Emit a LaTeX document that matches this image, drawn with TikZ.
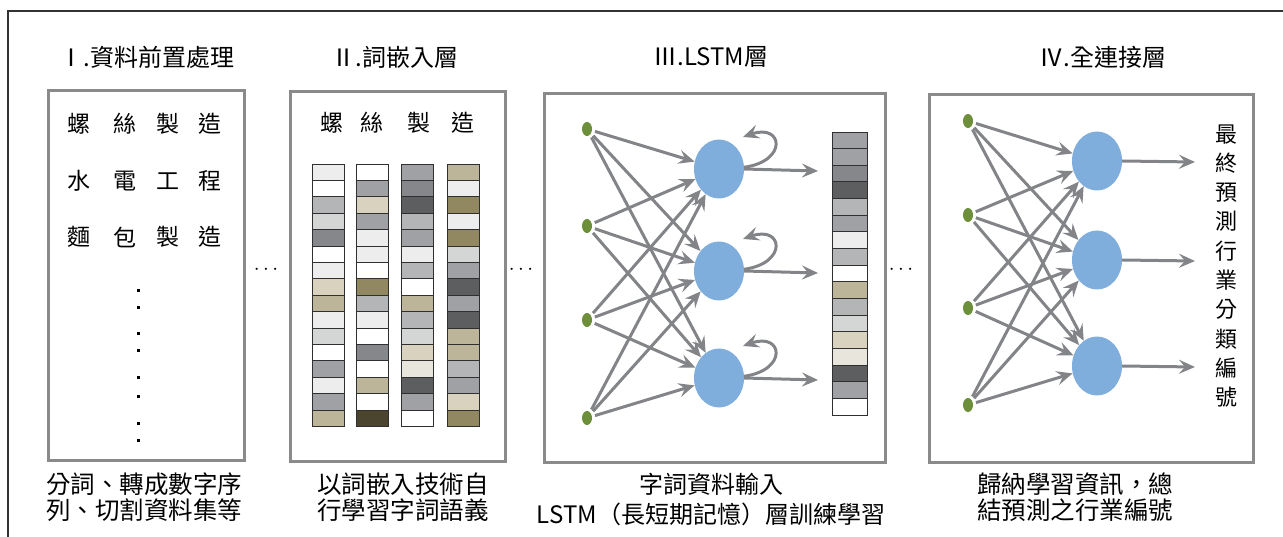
\documentclass[tikz,border=0pt]{standalone}
\usepackage{fontspec}
\setmainfont{Noto Sans CJK TC}
\usetikzlibrary{shapes.geometric,arrows.meta}
\definecolor{boxgray}{HTML}{8A8A8A}
\definecolor{arrgray}{HTML}{838487}
\definecolor{cellline}{HTML}{303030}
\definecolor{dotgreen}{HTML}{6E8F3A}
\definecolor{hidblue}{HTML}{7FAEDD}
\definecolor{cW}{HTML}{FFFFFF}
\definecolor{cL}{HTML}{EDEDED}
\definecolor{cP}{HTML}{D4D5D5}
\definecolor{cM}{HTML}{B4B5B7}
\definecolor{cG}{HTML}{A0A1A4}
\definecolor{cD}{HTML}{85878A}
\definecolor{cK}{HTML}{5D5E60}
\definecolor{cB}{HTML}{D9D2BE}
\definecolor{cC}{HTML}{BCB59A}
\definecolor{cO}{HTML}{918760}
\definecolor{cQ}{HTML}{4B4530}
\definecolor{cE}{HTML}{E8E6DC}
\begin{document}
\begin{tikzpicture}[x=1pt,y=-1pt,
  panel/.style={draw=boxgray, line width=3pt, anchor=north west, inner sep=0},
  txt/.style={font=\fontsize{23}{25}\selectfont, inner sep=0},
  captxt/.style={font=\fontsize{24.5}{25.5}\selectfont, inner sep=0},
  ttl/.style={font=\fontsize{24}{25}\selectfont, inner sep=0},
  cellst/.style={draw=cellline, line width=0.9pt},
  indot/.style={ellipse, fill=dotgreen, minimum width=10pt, minimum height=14pt, inner sep=0},
  hid/.style={ellipse, fill=hidblue, minimum width=50pt, minimum height=59pt, inner sep=0},
  arr/.style={draw=arrgray, line width=3pt, -{Stealth[length=16pt,width=14pt,inset=6pt]}},
  ell/.style={font=\fontsize{20}{20}\selectfont, inner sep=0}
]
\useasboundingbox (0,0) rectangle (1283,537);
% outer frame
\draw[line width=1.3pt, draw=black!80] (8,537) -- (8,11) -- (1283,11);

% panels
\node[panel, minimum width=196pt, minimum height=370pt] (box1) at (47,89) {};
\node[panel, minimum width=215pt, minimum height=370pt] (box2) at (289,90) {};
\node[panel, minimum width=341pt, minimum height=369pt] (box3) at (543,92) {};
\node[panel, minimum width=324pt, minimum height=368pt] (box4) at (928,93) {};

% titles
\node[ttl] (t1) at (147,57) {Ⅰ.資料前置處理};
\node[ttl] (t2) at (395,57) {Ⅱ.詞嵌入層};
\node[ttl] (t3) at (711,57) {Ⅲ.LSTM層};
\node[ttl] (t4) at (1103,57) {Ⅳ.全連接層};

% box1 words
\foreach \r/\y/\a/\b/\c/\d in {1/124/螺/絲/製/造, 2/181/水/電/工/程, 3/237/麵/包/製/造}{
  \node[txt] (w\r a) at (79,\y) {\a};
  \node[txt] (w\r b) at (125,\y) {\b};
  \node[txt] (w\r c) at (168,\y) {\c};
  \node[txt] (w\r d) at (210,\y) {\d};
}
\foreach \y in {291,308,334,351,378,396,423,440}
  \fill (136.5,{\y-1.5}) rectangle ++(3,3);

% box2 words
\node[txt] (e1) at (332,123) {螺};
\node[txt] (e2) at (372,123) {絲};
\node[txt] (e3) at (419,123) {製};
\node[txt] (e4) at (463,123) {造};

% embedding columns
\foreach \c [count=\i from 0] in {L,W,M,P,D,W,L,B,C,L,P,W,G,L,G,C}
  \draw[cellst, fill=c\c] (312,{164+\i*16.4}) rectangle ++(32,16.4);
\foreach \c [count=\i from 0] in {W,G,B,G,L,L,W,O,M,L,W,D,W,C,W,Q}
  \draw[cellst, fill=c\c] (356,{164+\i*16.4}) rectangle ++(32,16.4);
\foreach \c [count=\i from 0] in {G,D,K,M,G,L,M,W,C,M,P,B,E,K,G,W}
  \draw[cellst, fill=c\c] (401,{164+\i*16.4}) rectangle ++(32,16.4);
\foreach \c [count=\i from 0] in {C,L,O,L,O,P,G,K,G,K,C,C,M,G,B,O}
  \draw[cellst, fill=c\c] (447,{164+\i*16.4}) rectangle ++(32,16.4);

% LSTM output column
\foreach \c [count=\i from 0] in {G,G,D,K,M,G,L,M,W,C,M,P,B,E,K,G,W}
  \draw[cellst, fill=c\c] (832,{132+\i*16.65}) rectangle ++(35,16.65);

% LSTM network
\foreach \n/\y in {1/129,2/226,3/320,4/418}
  \node[indot] (a\n) at (587,\y) {};
\foreach \n/\y in {1/169,2/271,3/378}{
  \node[hid] (h\n) at (719,\y) {};
  \coordinate (o\n) at (818,{\y+2});
  \coordinate (l\n) at (743,{\y-32});
}
\foreach \i in {1,...,4}
  \foreach \j in {1,2,3}
    \draw[arr, shorten <=3pt] (a\i) -- (h\j);
\foreach \j in {1,2,3}{
  \draw[arr] (h\j.east) -- (o\j);
  \draw[arr] (h\j.4) .. controls +(44,-6) and +(40,-14) .. (l\j);
}

% fully connected network
\foreach \n/\y in {1/121,2/215,3/308,4/405}
  \node[indot] (b\n) at (968,\y) {};
\foreach \n/\y in {1/161,2/260,3/366}{
  \node[hid] (g\n) at (1097,\y) {};
  \coordinate (p\n) at (1195,{\y+1});
}
\foreach \i in {1,...,4}
  \foreach \j in {1,2,3}
    \draw[arr, shorten <=3pt] (b\i) -- (g\j);
\foreach \j in {1,2,3}
  \draw[arr] (g\j.east) -- (p\j);

% vertical label
\node[font=\fontsize{22}{29.3}\selectfont, inner sep=0, align=center] (vlab) at (1226,266)
  {最\\終\\預\\測\\行\\業\\分\\類\\編\\號};

% ellipses between panels
\node[ell] (d1) at (266,270) {$\cdots$};
\node[ell] (d2) at (521,270) {$\cdots$};
\node[ell] (d3) at (901,270) {$\cdots$};

% bottom captions
\node[captxt, anchor=north west, align=left] (c1) at (46,473) {分詞、轉成數字序\\列、切割資料集等};
\node[captxt, anchor=north, align=left] (c2) at (403,473) {以詞嵌入技術自\\行學習字詞語義};
\node[captxt, anchor=north, align=center, font=\fontsize{24}{30}\selectfont] (c3) at (711,473) {字詞資料輸入\\LSTM（長短期記憶）層訓練學習};
\node[captxt, anchor=north west, align=left] (c4) at (977,473) {歸納學習資訊，總\\結預測之行業編號};
\end{tikzpicture}
\end{document}
